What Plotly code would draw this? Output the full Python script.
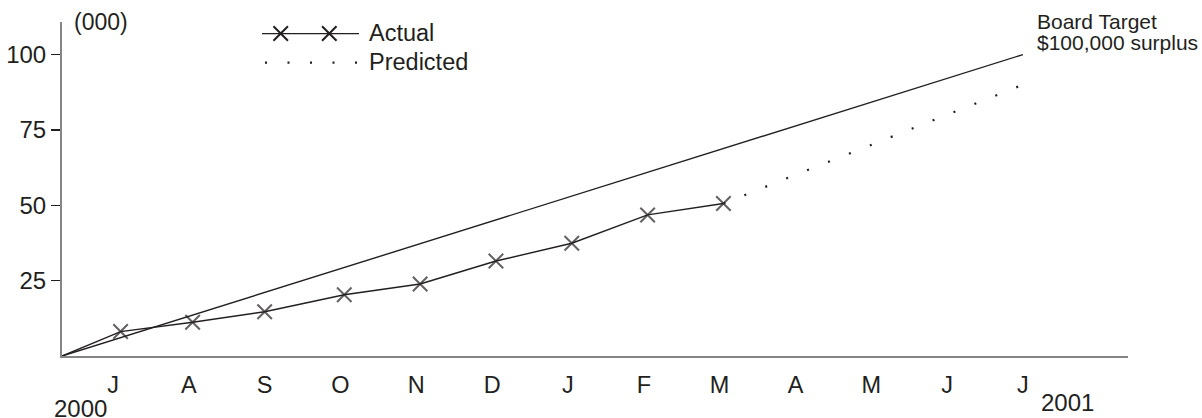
import plotly.graph_objects as go

# ---------------- data ----------------
months = ["J", "A", "S", "O", "N", "D", "J", "F", "M", "A", "M", "J", "J"]
month_pos = list(range(1, 14))
origin_x = 0.33

actual_x = [origin_x, 1.1, 2.05, 3.0, 4.05, 5.05, 6.05, 7.05, 8.05, 9.05]
actual_y = [0, 8.1, 11.2, 14.7, 20.3, 23.9, 31.5, 37.4, 46.8, 50.6]

target_x = [origin_x, 13.0]
target_y = [0, 100]

predicted_x = [9.05, 13.0]
predicted_y = [50.6, 90.0]

y_ticks = [25, 50, 75, 100]

# ---------------- layout geometry (px) ----------------
W, H = 1202, 418
PL, PR, PT, PB = 62, 1128, 21.7, 356.2
X_RANGE = [1 - (113 - PL) / 75.83, 1 + (PR - 113) / 75.83]
Y_RANGE = [0, 110.8]

def px_x(p):
    return (p - PL) / (PR - PL)

def px_y(p):
    return (PB - p) / (PB - PT)

INK = "#231f20"
AXIS = "#858585"
FONT = "Liberation Sans, Arial, sans-serif"
DOTS = "2px,20.5px"
MSIZE = 14.5
MLW = 2

fig = go.Figure()

fig.add_trace(go.Scatter(x=target_x, y=target_y, mode="lines",
                         line=dict(color=INK, width=1.4), showlegend=False,
                         hoverinfo="skip"))
fig.add_trace(go.Scatter(x=predicted_x, y=predicted_y, mode="lines",
                         line=dict(color=INK, width=2.2, dash=DOTS),
                         showlegend=False, hoverinfo="skip"))
fig.add_trace(go.Scatter(x=actual_x, y=actual_y, mode="lines+markers",
                         line=dict(color=INK, width=1.4),
                         marker=dict(symbol="x-thin",
                                     size=[0] + [MSIZE] * (len(actual_x) - 1),
                                     color=INK, line=dict(color=INK, width=MLW)),
                         showlegend=False, hoverinfo="skip", cliponaxis=False))

# manual legend key (paper-like overlay axes)
lg_line_x = [px_x(262), px_x(359)]
lg_mark_x = [px_x(280.7), px_x(329.3)]
lg_y1 = px_y(33.3)
lg_y2 = px_y(62.3)
fig.add_trace(go.Scatter(x=lg_line_x, y=[lg_y1, lg_y1], mode="lines",
                         line=dict(color=INK, width=1.4), xaxis="x2", yaxis="y2",
                         showlegend=False, hoverinfo="skip", cliponaxis=False))
fig.add_trace(go.Scatter(x=lg_mark_x, y=[lg_y1, lg_y1], mode="markers",
                         marker=dict(symbol="x-thin", size=MSIZE, color=INK,
                                     line=dict(color=INK, width=MLW)),
                         xaxis="x2", yaxis="y2", showlegend=False,
                         hoverinfo="skip", cliponaxis=False))
fig.add_trace(go.Scatter(x=[px_x(265), px_x(357)], y=[lg_y2, lg_y2], mode="lines",
                         line=dict(color=INK, width=2.2, dash=DOTS),
                         xaxis="x2", yaxis="y2", showlegend=False,
                         hoverinfo="skip", cliponaxis=False))

ann = []
def text(s, xp, yp, size, xanchor="left"):
    ann.append(dict(text=s, xref="paper", yref="paper", x=px_x(xp), y=px_y(yp),
                    xanchor=xanchor, yanchor="middle", showarrow=False,
                    font=dict(family=FONT, size=size, color=INK)))

text("Actual", 367, 32.5, 23.5)
text("Predicted", 367, 61.5, 23.5)
text("(000)", 71.5, 22, 23)
text("Board Target", 1035, 21.5, 21)
text("$100,000 surplus", 1035, 42.5, 21)
text("2000", 80, 409, 24, "center")
text("2001", 1067, 403, 24, "center")

fig.update_layout(
    width=W, height=H, autosize=False,
    margin=dict(l=PL, r=W - PR, t=PT, b=H - PB, pad=0, autoexpand=False),
    plot_bgcolor="white", paper_bgcolor="white",
    font=dict(family=FONT, color=INK),
    annotations=ann,
    xaxis=dict(range=X_RANGE, tickvals=month_pos, ticktext=months,
               showline=True, linecolor=AXIS, linewidth=2, showgrid=False,
               zeroline=False, ticks="outside", ticklen=7, automargin=False,
               tickcolor="rgba(0,0,0,0)", tickfont=dict(size=23.5, color=INK)),
    yaxis=dict(range=Y_RANGE, tickvals=y_ticks, showline=True, linecolor=AXIS,
               linewidth=2, showgrid=False, zeroline=False, ticks="outside",
               ticklen=9, tickwidth=1.2, tickcolor=INK, automargin=False,
               tickfont=dict(size=24, color=INK)),
    yaxis3=dict(range=Y_RANGE, tickvals=y_ticks, overlaying="y", anchor="x",
                side="left", showline=False, showgrid=False, zeroline=False,
                ticks="inside", ticklen=9, tickwidth=1.2, tickcolor=INK,
                showticklabels=False, automargin=False),
    xaxis2=dict(range=[0, 1], overlaying="x", anchor="y2", visible=False,
                automargin=False),
    yaxis2=dict(range=[0, 1], overlaying="y", anchor="x2", visible=False,
                automargin=False),
)

fig.write_html("out.html",
               config={"displayModeBar": False, "staticPlot": True},
               post_script="document.body.style.margin='0';"
                           "document.body.style.overflow='hidden';")
